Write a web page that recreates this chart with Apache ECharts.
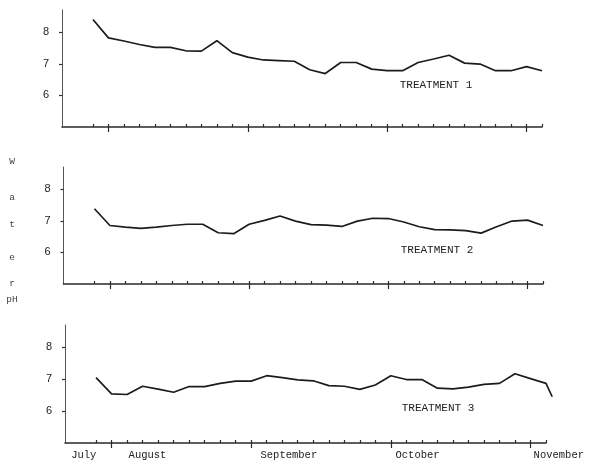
<!DOCTYPE html>
<html><head><meta charset="utf-8">
<script src="https://cdn.jsdelivr.net/npm/echarts@6/dist/echarts.min.js"></script>
<style>html,body{margin:0;padding:0;background:#fff}#c{width:600px;height:468px}</style>
</head><body><div id="c"></div>
<script>
// sample positions (sampling index along the season)
const sampleIdx = [0,1,2,3,4,5,6,7,8,9,10,11,12,13,14,15,16,17,18,19,20,21,22,23,24,25,26,27,28,29];
const treatment1 = [8.40,7.82,7.72,7.61,7.52,7.52,7.41,7.40,7.73,7.35,7.21,7.12,7.10,7.08,6.81,6.69,7.04,7.04,6.83,6.78,6.78,7.04,7.15,7.27,7.02,6.99,6.78,6.78,6.91,6.78];
const treatment2 = [7.38,6.85,6.80,6.76,6.80,6.85,6.89,6.89,6.62,6.59,6.89,7.01,7.15,6.99,6.88,6.86,6.82,6.99,7.08,7.07,6.96,6.81,6.72,6.71,6.69,6.61,6.81,6.99,7.02,6.85];
const treatment3 = [7.05,6.54,6.52,6.78,6.69,6.59,6.77,6.77,6.87,6.94,6.94,7.11,7.05,6.98,6.95,6.80,6.78,6.68,6.82,7.11,6.99,6.99,6.72,6.70,6.75,6.84,6.87,7.17,7.02,6.87];
const treatment3TailIdx = [29.4];
const treatment3Tail = [6.45];
const panelNames = ['TREATMENT 1','TREATMENT 2','TREATMENT 3'];
const yTicks = [6,7,8];
const monthTicks = [1,10,19,28];
const monthNames = ['July','August','September','October','November'];
const monthLabelPos = [-1.6,2.1,10.6,19.3,28.2];
const yTitle = ['W','a','t','e','r','pH'];

const grids = [
  {left:62, top:10, width:480, height:117},
  {left:63.5, top:167, width:479.5, height:117},
  {left:65, top:325, width:481, height:118}
];
const X_MIN = -2, X_MAX = 29, X_MAX_EXT = 29.4;
// overlay grid for treatment 3 so its final reading (just past the last tick) is drawn
const g3 = grids[2];
grids.push({left:g3.left, top:g3.top, height:g3.height,
  width:g3.width*(X_MAX_EXT-X_MIN)/(X_MAX-X_MIN)});

const mono = '"Liberation Mono","DejaVu Sans Mono",monospace';
const ink = '#1c1c1c';

const xAxes = [], yAxes = [], series = [];
[0,1,2].forEach((i)=>{
  xAxes.push({
    type:'value', gridIndex:i, min:X_MIN, max:X_MAX, interval:1,
    axisLine:{show:true, onZero:false, lineStyle:{color:'#2a2a2a', width:1.5}},
    axisTick:{show:true, inside:true, length:3, customValues:sampleIdx, lineStyle:{color:'#2a2a2a', width:1.2}},
    splitLine:{show:false},
    axisLabel: i===2 ? {
      show:true, customValues:monthLabelPos, align:'left', margin:7,
      fontFamily:mono, fontSize:10.5, color:'#222',
      formatter:(v)=>{const k=monthLabelPos.findIndex(p=>Math.abs(p-v)<0.01);return k>=0?monthNames[k]:'';}
    } : {show:false}
  });
  xAxes.push({
    type:'value', gridIndex:i, min:X_MIN, max:X_MAX, interval:1, position:'bottom',
    axisLine:{show:false, onZero:false},
    axisTick:{show:true, inside:false, length:5, customValues:monthTicks, lineStyle:{color:'#2a2a2a', width:1.2}},
    splitLine:{show:false}, axisLabel:{show:false}
  });
  yAxes.push({
    type:'value', gridIndex:i, min:5, max:8.7, interval:1,
    axisLine:{show:true, onZero:false, lineStyle:{color:'#555', width:1}},
    axisTick:{show:true, length:3, customValues:yTicks, lineStyle:{color:'#333', width:1.2}},
    splitLine:{show:false},
    axisLabel:{show:true, customValues:yTicks, margin:13, fontFamily:'"Liberation Sans",Arial,sans-serif', fontSize:11, color:'#222'}
  });
});
// hidden axes for the overlay grid
xAxes.push({type:'value', gridIndex:3, min:X_MIN, max:X_MAX_EXT, show:false, splitLine:{show:false}});
yAxes.push({type:'value', gridIndex:3, min:5, max:8.7, show:false, splitLine:{show:false}});

series.push({type:'line', xAxisIndex:0, yAxisIndex:0, symbol:'none', silent:true,
  data:sampleIdx.map((x,k)=>[x, treatment1[k]]), lineStyle:{color:ink, width:1.7}});
series.push({type:'line', xAxisIndex:2, yAxisIndex:1, symbol:'none', silent:true,
  data:sampleIdx.map((x,k)=>[x, treatment2[k]]), lineStyle:{color:ink, width:1.7}});
series.push({type:'line', xAxisIndex:6, yAxisIndex:3, symbol:'none', silent:true,
  data:sampleIdx.map((x,k)=>[x, treatment3[k]]).concat(treatment3TailIdx.map((x,k)=>[x, treatment3Tail[k]])),
  lineStyle:{color:ink, width:1.7}});

const labelPos = [[436,85],[437,250],[438,408]];
const graphic = panelNames.map((t,i)=>({
  type:'text', x:labelPos[i][0], y:labelPos[i][1],
  style:{text:t, fontFamily:mono, fontSize:11, fill:'#222', align:'center', verticalAlign:'middle'}
}));
const yTitleY = [161,197,224,257,283,299];
yTitle.forEach((t,k)=>graphic.push({
  type:'text', x:12, y:yTitleY[k],
  style:{text:t, fontFamily:mono, fontSize:9.5, fill:'#444', align:'center', verticalAlign:'middle'}
}));

const chart = echarts.init(document.getElementById('c'), null, {renderer:'canvas'});
chart.setOption({
  animation:false, backgroundColor:'#fff',
  grid:grids, xAxis:xAxes, yAxis:yAxes, series:series, graphic:graphic
});
</script></body></html>
